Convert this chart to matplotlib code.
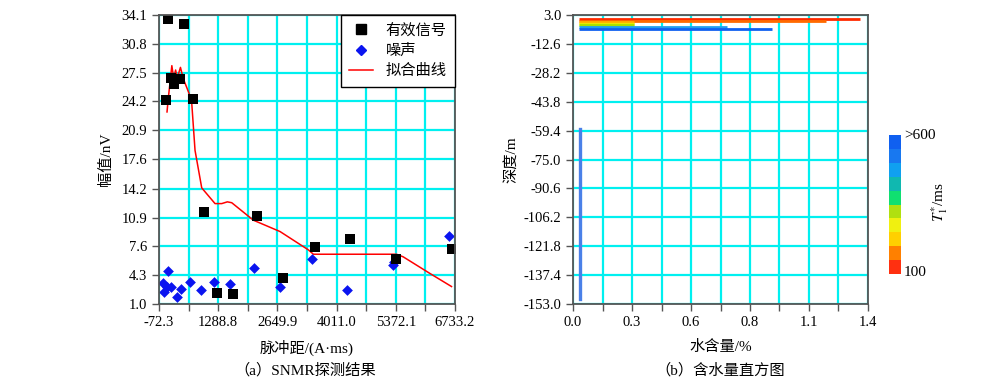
import numpy as np
import matplotlib
matplotlib.use('Agg')
import matplotlib.pyplot as plt
from matplotlib.colors import ListedColormap, BoundaryNorm
from matplotlib.colorbar import ColorbarBase
from matplotlib.lines import Line2D

plt.rcParams['font.family'] = ['Liberation Serif', 'Noto Sans CJK SC']
plt.rcParams['mathtext.fontset'] = 'stix'

# ---- left panel data (pulse moment vs amplitude) ----
sig_x = [99, 138, 207, 276, 421, 513, 713, 958, 1265, 1633, 2184, 2790, 3511, 4322, 5388, 6668]
sig_y = [24.4, 33.6, 26.9, 26.2, 26.8, 33.1, 24.5, 11.5, 2.3, 2.1, 11.1, 4.0, 7.5, 8.5, 6.2, 7.3]

noise_x = [13, 50, 119, 142, 204, 335, 441, 648, 887, 1193, 1561, 2112, 2717, 3439, 4251, 5316, 5330, 6596]
noise_y = [3.4, 2.4, 3.0, 4.8, 3.0, 1.8, 2.7, 3.5, 2.6, 3.5, 3.3, 5.1, 3.0, 6.1, 2.65, 5.5, 5.8, 8.8]

fit_x = [112, 138, 223, 266, 310, 345, 421, 483, 675, 756, 910, 1216, 1370, 1499, 1600,
         2097, 2710, 3362, 3477, 5388, 5543, 6156, 6653]
fit_y = [23.0, 24.4, 28.3, 26.85, 27.8, 26.85, 28.1, 26.85, 24.4, 18.6, 14.3, 12.5, 12.5, 12.7, 12.6,
         10.6, 9.3, 7.2, 6.7, 6.7, 6.4, 4.5, 3.0]

left_xticks = [-72.3, 1288.8, 2649.9, 4011.0, 5372.1, 6733.2]
left_yticks = [1.0, 4.3, 7.6, 10.9, 14.2, 17.6, 20.9, 24.2, 27.5, 30.8, 34.1]

# ---- right panel data (water content histogram) ----
bar_depth = [0.9, -0.2, -1.0, -1.8, -2.6, -3.6, -4.6]
bar_start = [0.028] * 7
bar_end = [1.36, 1.20, 0.29, 0.29, 0.29, 0.73, 0.945]
bar_colors = ['#ff2a00', '#ff6a00', '#ffb400', '#e8ee00', '#a8e000', '#20a0f0', '#1060f0']

deep_x = 0.033
deep_top = -58.5
deep_bottom = -150.5

right_xticks = [0.0, 0.28, 0.56, 0.84, 1.12, 1.40]
right_xlabels = ['0.0', '0.3', '0.6', '0.8', '1.1', '1.4']
right_yticks = [3.0, -12.6, -28.2, -43.8, -59.4, -75.0, -90.6, -106.2, -121.8, -137.4, -153.0]

cbar_colors = ['#ff3010', '#ff8000', '#ffd000', '#f0f010', '#b0e010',
               '#10e070', '#10b8b0', '#10a0f0', '#1878f0', '#1060f0']

grid_c = '#00f0f0'
spine_c = '#555555'
fs = 10.5

fig = plt.figure(figsize=(10, 3.88), dpi=100)


def style_axes(ax):
    for s in ['top', 'right', 'left', 'bottom']:
        ax.spines[s].set_color(spine_c)
        ax.spines[s].set_linewidth(1.3)
        ax.spines[s].set_zorder(5)
    ax.tick_params(which='both', direction='out', length=5, width=1, color=spine_c,
                   labelsize=fs, top=False, right=False)
    ax.grid(True, which='both', color=grid_c, lw=1.6, zorder=0)
    ax.set_axisbelow(True)


# left
ax1 = fig.add_axes([0.159, 0.2165, 0.296, 0.7448])
ax1.plot(fit_x, fit_y, color='red', lw=1.1, zorder=3)
ax1.scatter(noise_x, noise_y, marker='D', s=30, color='#0a14f0', zorder=4, linewidths=0)
ax1.scatter(sig_x, sig_y, marker='s', s=60, color='black', zorder=4, linewidths=0)
ax1.set_xlim(-72.3, 6733.2)
ax1.set_ylim(1.0, 34.1)
ax1.set_xticks(left_xticks)
ax1.set_xticklabels([f'{v:.1f}' for v in left_xticks])
ax1.set_xticks([(a + b) / 2 for a, b in zip(left_xticks[:-1], left_xticks[1:])], minor=True)
ax1.set_yticks(left_yticks)
ax1.set_yticklabels([f'{v:.1f}' for v in left_yticks])
style_axes(ax1)
ax1.set_xlabel('脉冲距/(A·ms)', fontsize=11, labelpad=8)
ax1.set_ylabel('幅值/nV', fontsize=11, labelpad=6)

handles = [Line2D([], [], marker='s', color='black', ls='none', markersize=7),
           Line2D([], [], marker='D', color='#0a14f0', ls='none', markersize=5),
           Line2D([], [], color='red', lw=1.1)]
leg = ax1.legend(handles, ['有效信号', '噪声', '拟合曲线'], loc='upper right',
                 fontsize=11, frameon=True, fancybox=False, framealpha=1,
                 borderaxespad=0, handlelength=1.6, labelspacing=0.4, borderpad=0.55)
leg.get_frame().set_edgecolor('black')
leg.get_frame().set_linewidth(1.0)
leg.set_zorder(6)

# right
ax2 = fig.add_axes([0.573, 0.2165, 0.295, 0.7448])
for d, s, e, c in zip(bar_depth, bar_start, bar_end, bar_colors):
    ax2.plot([s, e], [d, d], color=c, lw=2.0, solid_capstyle='butt', zorder=3)
ax2.plot([deep_x, deep_x], [deep_top, deep_bottom], color='#4a80e8', lw=2.4, zorder=3)
ax2.set_xlim(0, 1.4)
ax2.set_ylim(-153.0, 3.0)
ax2.set_xticks(right_xticks)
ax2.set_xticklabels(right_xlabels)
ax2.set_xticks([(a + b) / 2 for a, b in zip(right_xticks[:-1], right_xticks[1:])], minor=True)
ax2.set_yticks(right_yticks)
ax2.set_yticklabels([f'{v:.1f}' for v in right_yticks])
style_axes(ax2)
ax2.set_xlabel('水含量/%', fontsize=11, labelpad=8)
ax2.set_ylabel('深度/m', fontsize=11, labelpad=4)

# colorbar
cax = fig.add_axes([0.889, 0.2938, 0.012, 0.358])
cmap = ListedColormap(cbar_colors)
norm = BoundaryNorm(np.arange(11), cmap.N)
cb = ColorbarBase(cax, cmap=cmap, norm=norm, orientation='vertical')
cb.outline.set_visible(False)
cax.minorticks_off()
cax.set_yticks([])
cax.tick_params(which='both', length=0, labelleft=False, labelright=False)
fig.text(0.904, 0.652, '>600', fontsize=11, ha='left', va='center')
fig.text(0.904, 0.297, '100', fontsize=11, ha='left', va='center')
fig.text(0.94, 0.48, r'$T^{*}_{1}$/ms', fontsize=11, rotation=90, ha='center', va='center')

# captions
fig.text(0.305, 0.045, '（a）SNMR探测结果', fontsize=11, ha='center', va='center')
fig.text(0.72, 0.045, '（b）含水量直方图', fontsize=11, ha='center', va='center')

fig.savefig('out.png', dpi=100)
